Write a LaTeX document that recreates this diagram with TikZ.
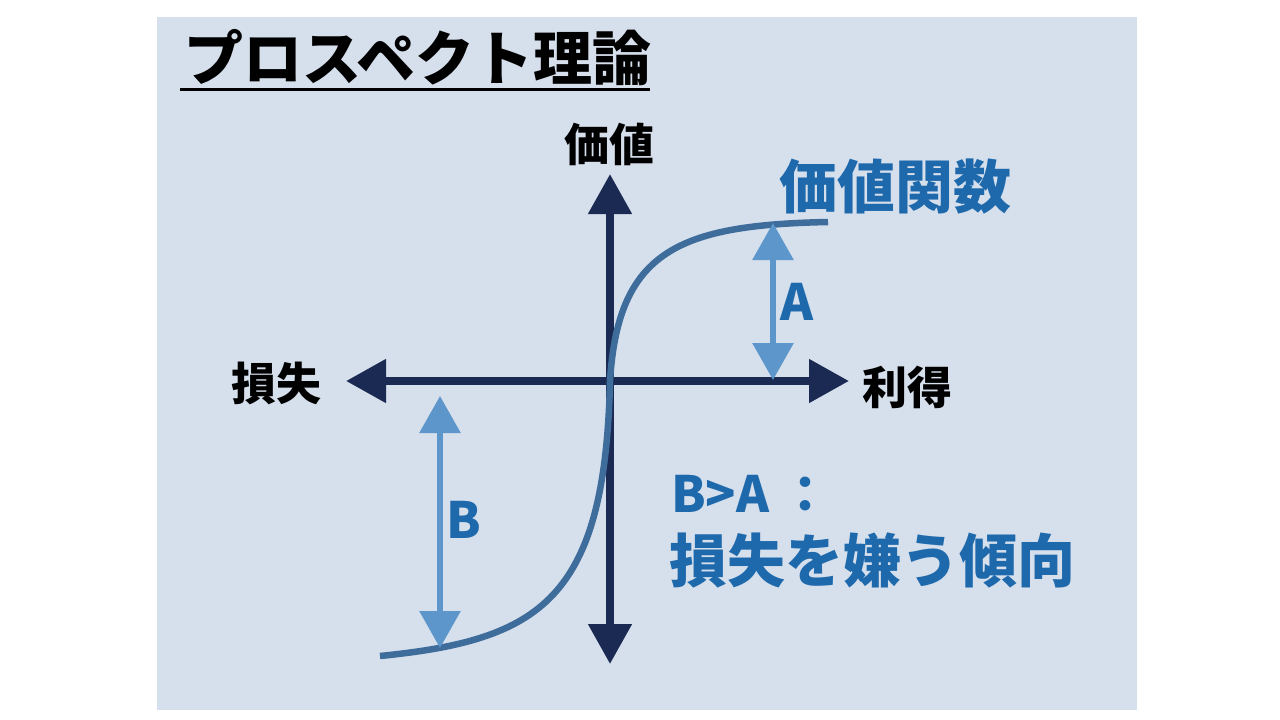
\documentclass[tikz,border=0pt]{standalone}
\usepackage{fontspec}
\newfontfamily\jp{Noto Sans CJK JP}
\usetikzlibrary{arrows.meta}
\definecolor{panel}{HTML}{D6DFEC}
\definecolor{navy}{HTML}{1A2A52}
\definecolor{curvec}{HTML}{3F6D9B}
\definecolor{lightarr}{HTML}{5D96CB}
\definecolor{bluetext}{HTML}{1E69AC}
\tikzset{
  axis/.style={navy, line width=8pt, -{Triangle[width=42pt,length=40pt]}},
  diff/.style={lightarr, line width=6pt, {Triangle[width=40pt,length=37pt]}-{Triangle[width=40pt,length=37pt]}},
  vcurve/.style={curvec, line width=6.5pt},
  blacklab/.style={inner sep=0pt, text=black, font=\jp\bfseries\fontsize{45}{50}\selectfont},
  bluelab/.style={inner sep=0pt, text=bluetext, font=\jp\bfseries\fontsize{58}{64}\selectfont},
  letterlab/.style={inner sep=0pt, text=bluetext, font=\jp\bfseries\fontsize{50}{56}\selectfont},
}
\begin{document}
\begin{tikzpicture}[x=1pt,y=-1pt]
\useasboundingbox (0,0) rectangle (1280,720);
\fill[panel] (157,17) rectangle (1137,710);
% title
\node[inner sep=0pt, text=black, font=\jp\bfseries\fontsize{59}{64}\selectfont] (title) at (418,58) {プロスペクト理論};
\coordinate (ulL) at (180,89);
\coordinate (ulR) at (650,89);
\draw[black, line width=3pt] (ulL) -- (ulR);
% axes
\coordinate (origin) at (610,381);
\coordinate (ytop) at (610,174);
\coordinate (ybot) at (610,664);
\coordinate (xleft) at (346,381);
\coordinate (xright) at (849,381);
\draw[axis] (origin) -- (ytop);
\draw[axis] (origin) -- (ybot);
\draw[axis] (origin) -- (xleft);
\draw[axis] (origin) -- (xright);
% value function
\coordinate (cstart) at (380,656);
\coordinate (cend) at (828,222);
\draw[vcurve] (cstart) .. controls (540,640) and (605,600) .. (origin)
  .. controls (618,250) and (680,225) .. (cend);
% difference arrows
\coordinate (Atop) at (773,223);
\coordinate (Abot) at (773,380);
\coordinate (Btop) at (440,396);
\coordinate (Bbot) at (440,648);
\draw[diff] (Atop) -- (Abot);
\draw[diff] (Btop) -- (Bbot);
% labels
\node[blacklab] (kachi) at (609,144) {価値};
\node[blacklab] (sonshitsu) at (276,383) {損失};
\node[blacklab] (ritoku) at (907,387) {利得};
\node[bluelab] (kansu) at (895,187) {価値関数};
\node[letterlab] (labA) at (797,302) {A};
\node[letterlab] (labB) at (464,520) {B};
\node[letterlab, anchor=west] (ineq) at (671,494) {B>A ：};
\node[bluelab, anchor=west] (keiko) at (669,560) {損失を嫌う傾向};
\end{tikzpicture}
\end{document}
